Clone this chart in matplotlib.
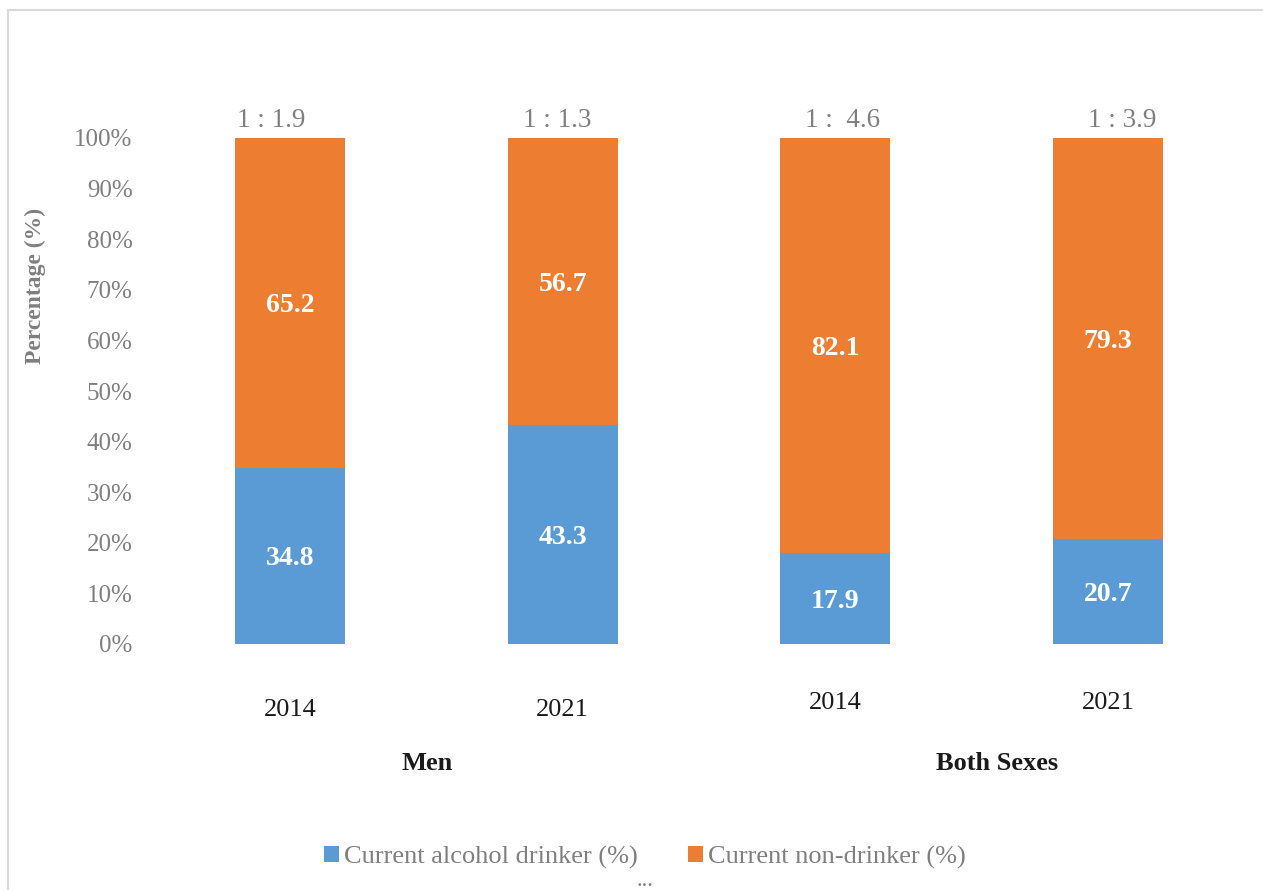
import matplotlib.pyplot as plt
from matplotlib.patches import Rectangle
from matplotlib.transforms import blended_transform_factory

plt.rcParams['font.family'] = ['Liberation Serif', 'DejaVu Serif']

years = ["2014", "2021", "2014", "2021"]
groups = ["Men", "Both Sexes"]
drinker = [34.8, 43.3, 17.9, 20.7]
non_drinker = [65.2, 56.7, 82.1, 79.3]
ratios = ["1 : 1.9", "1 : 1.3", "1 :  4.6", "1 : 3.9"]

blue = "#5B9BD5"
orange = "#ED7D31"
gray = "#7f7f7f"

W, H = 1263, 890
fig = plt.figure(figsize=(W / 100, H / 100), dpi=100)
fig.patches.append(Rectangle((8 / W, -0.1), 1.2, 1 - 10 / H + 0.1, transform=fig.transFigure,
                             fill=False, edgecolor="#d9d9d9", linewidth=1.5))

ax = fig.add_axes([153.5 / W, 1 - 644 / H, (1244.5 - 153.5) / W, (644 - 138) / H])
x = list(range(len(years)))
ax.bar(x, drinker, width=0.403, color=blue, label="Current alcohol drinker (%)")
ax.bar(x, non_drinker, width=0.403, bottom=drinker, color=orange,
       label="Current non-drinker (%)")
ax.set_xlim(-0.5, 3.5)
ax.set_ylim(0, 100)
ax.set_yticks(range(0, 101, 10))
ax.set_yticklabels([f"{v}%" for v in range(0, 101, 10)], color=gray, fontsize=18)
ax.tick_params(axis="y", length=0, pad=15)
ax.set_xticks([])
for s in ax.spines.values():
    s.set_visible(False)

# value labels inside bars
for i in x:
    ax.text(i, drinker[i] / 2, f"{drinker[i]}", ha="center", va="center_baseline",
            color="white", fontsize=20, fontweight="bold")
    ax.text(i, drinker[i] + non_drinker[i] / 2, f"{non_drinker[i]}", ha="center",
            va="center_baseline", color="white", fontsize=20, fontweight="bold")

# ratio labels above bars
offsets = [-0.07, -0.02, 0.025, 0.05]
for i in x:
    ax.text(i + offsets[i], 101.0, ratios[i], ha="center", va="bottom",
            color=gray, fontsize=19.5)

# year labels and group labels
tr = blended_transform_factory(ax.transData, fig.transFigure)
year_y = [710, 710, 703, 703]
for i in x:
    ax.text(i, 1 - year_y[i] / H, years[i], transform=tr, ha="center",
            va="center", fontsize=19, color="#1a1a1a")
fig.text(427 / W, 1 - 763 / H, groups[0], ha="center", va="center",
         fontsize=19, fontweight="bold", color="#1a1a1a")
fig.text(997 / W, 1 - 763 / H, groups[1], ha="center", va="center",
         fontsize=19, fontweight="bold", color="#1a1a1a")

fig.text(35 / W, 1 - 286 / H, "Percentage (%)", rotation=90, ha="center",
         va="center", fontsize=17, fontweight="bold", color=gray)

fig.legend(loc="center", bbox_to_anchor=(645 / W, 1 - 857 / H), ncol=2,
           frameon=False, fontsize=19, handlelength=0.55, handleheight=0.55,
           handletextpad=0.2, columnspacing=1.9, labelcolor=gray)
fig.text(645 / W, 1 - 882 / H, "...", ha="center", va="center",
         fontsize=16, color=gray)

fig.savefig("out.png", dpi=100)
